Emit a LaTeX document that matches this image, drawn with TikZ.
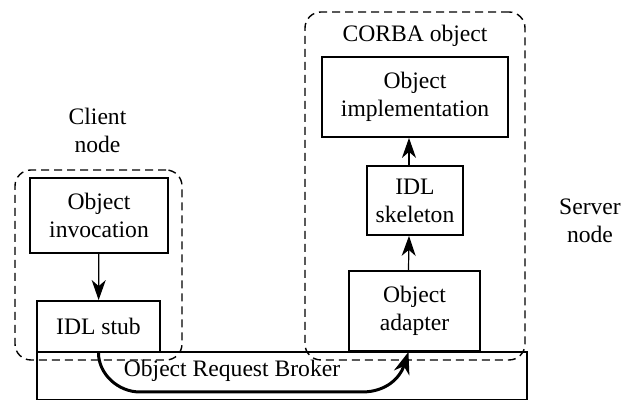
\documentclass[tikz,border=0pt]{standalone}
\usepackage{fontspec}
\setmainfont{Liberation Serif}
\usetikzlibrary{arrows.meta}
\tikzset{
  box/.style={draw, line width=0.9pt, align=center, inner sep=0pt},
  group/.style={draw, line width=0.7pt, dash pattern=on 4pt off 2.5pt, rounded corners=8pt, inner sep=0pt},
  flow/.style={-{Stealth[length=10pt,width=7pt,inset=3pt]}, line width=0.6pt},
  call/.style={-{Stealth[length=11pt,width=8pt,inset=3.5pt]}, line width=1.5pt}
}
\begin{document}
\begin{tikzpicture}[x=0.5pt, y=-0.5pt, font=\fontsize{11.8pt}{14pt}\selectfont]
\useasboundingbox (0,0) rectangle (622,400);
% broker along the bottom
\node[box, minimum width=245pt, minimum height=24pt] (orb) at (282,376) {};
\node[anchor=base, inner sep=0pt] (orblabel) at (232,377) {Object Request Broker};
% client side
\node[group, minimum width=83.5pt, minimum height=95pt] (client) at (98.5,265) {};
\node[align=center, inner sep=0pt] (clientlabel) at (97.5,130) {Client\\node};
\node[box, minimum width=69pt, minimum height=37.5pt] (invoc) at (99,215.5) {Object\\invocation};
\node[box, minimum width=61.5pt, minimum height=25.5pt] (stub) at (98.5,326.5) {IDL stub};
% server side
\node[group, minimum width=110pt, minimum height=174pt] (corba) at (415,186) {};
\node[anchor=base, inner sep=0pt] (corbalabel) at (415,42) {CORBA object};
\node[box, minimum width=93pt, minimum height=40pt] (impl) at (415,97) {Object\\implementation};
\node[box, minimum width=48pt, minimum height=34.5pt] (skel) at (415,200.5) {IDL\\skeleton};
\node[box, minimum width=65.5pt, minimum height=40pt] (adapter) at (414.5,311) {Object\\adapter};
\node[align=center, inner sep=0pt] (serverlabel) at (590,221) {Server\\node};
% connectors
\draw[flow] (invoc) -- (stub);
\draw[flow] ([xshift=-3pt]adapter.north) -- ([xshift=-3pt]skel.south);
\draw[flow] ([xshift=-3pt]skel.north) -- ([xshift=-3pt]impl.south);
\draw[call] (stub.south) .. controls (98.5,374) and (118,392) .. (140,392) -- (362,392)
  .. controls (386,392) and (400,378) .. ([xshift=-3pt]adapter.south);
\end{tikzpicture}
\end{document}
